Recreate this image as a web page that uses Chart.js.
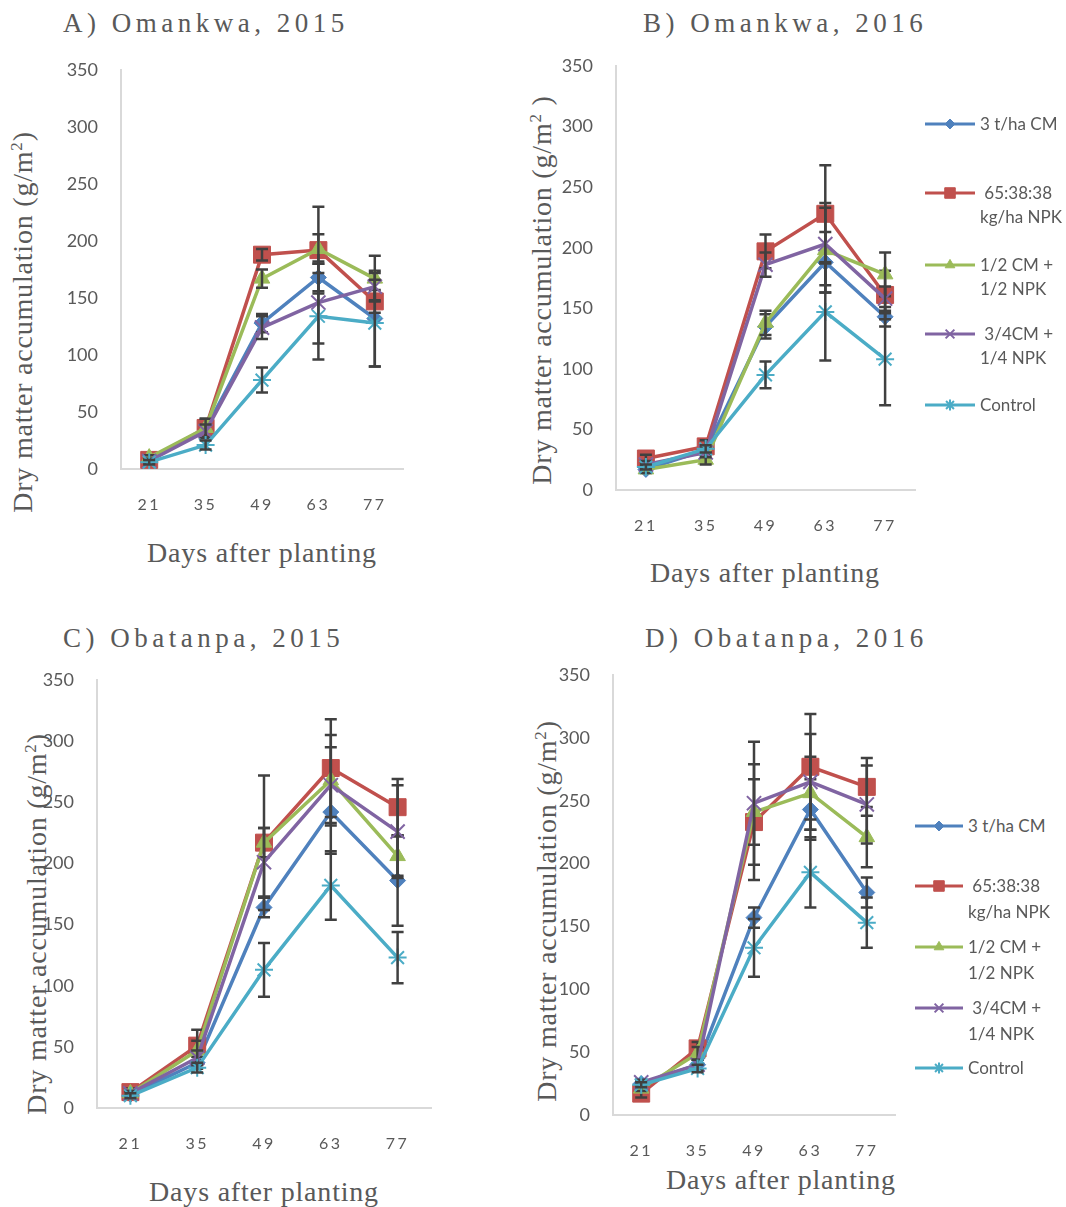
<!DOCTYPE html>
<html>
<head>
<meta charset="utf-8">
<script src="https://cdn.jsdelivr.net/npm/chart.js@4.4.1/dist/chart.umd.min.js"></script>
<style>
  body { margin: 0; background: #fff; width: 1066px; height: 1207px; position: relative; overflow: hidden; font-family: Lato, sans-serif; color: #595959; }
  .box { position: absolute; }
  .ttl { position: absolute; font-family: "Liberation Serif", serif; font-size: 27px; letter-spacing: 4.5px; color: #595959; white-space: nowrap; line-height: 1; }
  .axt { position: absolute; font-family: "Liberation Serif", serif; font-size: 28px; letter-spacing: 0.8px; color: #595959; white-space: nowrap; line-height: 1; transform: translate(-50%, -50%); }
  .axt.rot { transform: translate(-50%, -50%) rotate(-90deg); }
  .axt sup { font-size: 17px; line-height: 0; }
  .leg { position: absolute; display: flex; align-items: flex-start; font-size: 17px; color: #595959; white-space: nowrap; }
  .leg canvas { display: block; margin-right: 5px; }
</style>
</head>
<body>

<div class="ttl" style="left:63px;top:10px">A) Omankwa, 2015</div>
<div class="ttl" style="left:643px;top:10px">B) Omankwa, 2016</div>
<div class="ttl" style="left:63px;top:625px">C) Obatanpa, 2015</div>
<div class="ttl" style="left:645px;top:625px">D) Obatanpa, 2016</div>

<div class="axt rot" style="left:23px;top:322px">Dry matter accumulation (g/m<sup>2</sup>)</div>
<div class="axt rot" style="left:542px;top:290px">Dry matter accumulation (g/m<sup>2</sup> )</div>
<div class="axt rot" style="left:37px;top:924px">Dry matter accumulation (g/m<sup>2</sup>)</div>
<div class="axt rot" style="left:547px;top:911px">Dry matter accumulation (g/m<sup>2</sup>)</div>

<div class="axt" style="left:262px;top:553px">Days after planting</div>
<div class="axt" style="left:765px;top:573px">Days after planting</div>
<div class="axt" style="left:264px;top:1192px">Days after planting</div>
<div class="axt" style="left:781px;top:1180px">Days after planting</div>

<script>
// x categories (days after planting)
const days = ['21', '35', '49', '63', '77'];
const seriesNames = [['3 t/ha CM'], [' 65:38:38', 'kg/ha NPK'], ['1/2 CM +', '1/2 NPK'], [' 3/4CM +', '1/4 NPK'], ['Control']];

// A) Omankwa 2015
const omk15Cm   = [8, 35, 128, 168, 132];
const omk15Npk  = [8, 36, 188, 192, 147];
const omk15Half = [10, 36, 167, 193, 167];
const omk15Mix  = [7, 33, 124, 146, 160];
const omk15Ctrl = [6, 21, 78, 134, 128];
const omk15CmErr   = [2, 5, 8, 12, 42];
const omk15NpkErr  = [2, 8, 5, 38, 10];
const omk15HalfErr = [2, 8, 8, 13, 20];
const omk15MixErr  = [2, 6, 10, 36, 12];
const omk15CtrlErr = [2, 4, 11, 38, 38];

// B) Omankwa 2016
const omk16Cm   = [17, 33, 135, 188, 143];
const omk16Npk  = [26, 36, 197, 228, 161];
const omk16Half = [17, 25, 138, 198, 178];
const omk16Mix  = [21, 31, 186, 203, 158];
const omk16Ctrl = [19, 34, 95, 147, 108];
const omk16CmErr   = [2, 3, 10, 25, 8];
const omk16NpkErr  = [3, 5, 14, 40, 20];
const omk16HalfErr = [3, 4, 10, 35, 18];
const omk16MixErr  = [3, 4, 10, 34, 10];
const omk16CtrlErr = [2, 3, 11, 40, 38];

// C) Obatanpa 2015
const obt15Cm   = [11, 37, 164, 242, 186];
const obt15Npk  = [13, 51, 217, 278, 246];
const obt15Half = [12, 47, 217, 268, 206];
const obt15Mix  = [12, 41, 201, 264, 226];
const obt15Ctrl = [10, 33, 113, 182, 123];
const obt15CmErr   = [2, 5, 8, 34, 37];
const obt15NpkErr  = [3, 13, 55, 40, 23];
const obt15HalfErr = [2, 8, 12, 37, 16];
const obt15MixErr  = [2, 6, 28, 31, 38];
const obt15CtrlErr = [2, 4, 22, 28, 21];

// D) Obatanpa 2016
const obt16Cm   = [25, 40, 157, 243, 177];
const obt16Npk  = [17, 53, 233, 277, 261];
const obt16Half = [21, 49, 241, 256, 221];
const obt16Mix  = [26, 40, 248, 265, 247];
const obt16Ctrl = [24, 37, 133, 193, 153];
const obt16CmErr   = [2, 4, 8, 24, 12];
const obt16NpkErr  = [3, 5, 46, 42, 23];
const obt16HalfErr = [2, 5, 26, 29, 24];
const obt16MixErr  = [2, 4, 49, 38, 31];
const obt16CtrlErr = [2, 3, 23, 28, 20];

const colors  = ['#4F81BD', '#C0504D', '#9BBB59', '#8064A2', '#4BACC6'];
const markers = ['rectRot', 'rect', 'triangle', 'crossRot', 'star'];
const radii   = [8, 12, 9, 10, 9];

// plot area in page pixels: left, top, right, bottom
const panels = [
  { plot: [121, 70, 403, 469], values: [omk15Cm, omk15Npk, omk15Half, omk15Mix, omk15Ctrl], errors: [omk15CmErr, omk15NpkErr, omk15HalfErr, omk15MixErr, omk15CtrlErr] },
  { plot: [616, 66, 915, 490], values: [omk16Cm, omk16Npk, omk16Half, omk16Mix, omk16Ctrl], errors: [omk16CmErr, omk16NpkErr, omk16HalfErr, omk16MixErr, omk16CtrlErr],
    legend: { left: 925, rows: [124, 193, 265, 334, 405], lineH: 24, symW: 50 } },
  { plot: [97, 680, 431, 1108], values: [obt15Cm, obt15Npk, obt15Half, obt15Mix, obt15Ctrl], errors: [obt15CmErr, obt15NpkErr, obt15HalfErr, obt15MixErr, obt15CtrlErr] },
  { plot: [613, 675, 895, 1115], values: [obt16Cm, obt16Npk, obt16Half, obt16Mix, obt16Ctrl], errors: [obt16CmErr, obt16NpkErr, obt16HalfErr, obt16MixErr, obt16CtrlErr],
    legend: { left: 915, rows: [826, 886, 947, 1008, 1068], lineH: 26, symW: 48 } }
];

// error bars drawn with each series
const errorBars = {
  id: 'errorBars',
  afterDatasetDraw(chart, args) {
    const ds = chart.data.datasets[args.index];
    if (!ds.errors) return;
    const ctx = chart.ctx, y = chart.scales.y;
    ctx.save();
    ctx.strokeStyle = '#404040';
    ctx.lineWidth = 2.5;
    args.meta.data.forEach((pt, i) => {
      const top = y.getPixelForValue(ds.data[i] + ds.errors[i]);
      const bot = y.getPixelForValue(ds.data[i] - ds.errors[i]);
      ctx.beginPath();
      ctx.moveTo(pt.x, top); ctx.lineTo(pt.x, bot);
      ctx.moveTo(pt.x - 6, top); ctx.lineTo(pt.x + 6, top);
      ctx.moveTo(pt.x - 6, bot); ctx.lineTo(pt.x + 6, bot);
      ctx.stroke();
    });
    ctx.restore();
  }
};

// spaced-out day labels like the original
const spacedDays = {
  id: 'spacedDays',
  beforeDraw(chart) {
    const sx = chart.scales.x;
    if (sx._spaced) return;
    const orig = sx.drawLabels.bind(sx);
    sx.drawLabels = (area) => {
      chart.ctx.save();
      chart.ctx.letterSpacing = '2.5px';
      orig(area);
      chart.ctx.restore();
    };
    sx._spaced = true;
  }
};

function noPad(s) {
  s.paddingTop = 0; s.paddingBottom = 0; s.paddingLeft = 0; s.paddingRight = 0;
}

function buildLegend(chart, lg) {
  chart.data.datasets.forEach((ds, i) => {
    const row = document.createElement('div');
    row.className = 'leg';
    row.style.left = lg.left + 'px';
    row.style.top = (lg.rows[i] - lg.lineH / 2) + 'px';
    row.style.lineHeight = lg.lineH + 'px';
    const c = document.createElement('canvas');
    c.width = lg.symW; c.height = lg.lineH;
    const g = c.getContext('2d');
    g.strokeStyle = ds.borderColor;
    g.lineWidth = 3;
    g.beginPath(); g.moveTo(0, lg.lineH / 2); g.lineTo(lg.symW, lg.lineH / 2); g.stroke();
    if (Chart.helpers && Chart.helpers.drawPoint) {
      g.fillStyle = ds.pointBackgroundColor;
      g.strokeStyle = ds.pointBorderColor;
      g.lineWidth = ds.pointBorderWidth;
      Chart.helpers.drawPoint(g, { pointStyle: ds.pointStyle, radius: ds.pointRadius * 0.62, borderWidth: ds.pointBorderWidth, rotation: 0 }, lg.symW / 2, lg.lineH / 2);
    }
    const t = document.createElement('div');
    t.style.whiteSpace = 'pre';
    t.textContent = seriesNames[i].join('\n');
    row.appendChild(c);
    row.appendChild(t);
    document.body.appendChild(row);
  });
}

panels.forEach((p) => {
  const [L, T, R, B] = p.plot;
  const box = document.createElement('div');
  box.className = 'box';
  box.style.left = (L - 80) + 'px';
  box.style.top = (T - 20) + 'px';
  const canvas = document.createElement('canvas');
  canvas.width = R - L + 95;
  canvas.height = B - T + 80;
  box.appendChild(canvas);
  document.body.appendChild(box);

  const datasets = p.values.map((vals, i) => ({
    label: seriesNames[i].join(' ').trim(),
    data: vals,
    errors: p.errors[i],
    borderColor: colors[i],
    backgroundColor: colors[i],
    borderWidth: 3.5,
    pointStyle: markers[i],
    pointRadius: radii[i],
    pointBackgroundColor: colors[i],
    pointBorderColor: colors[i],
    pointBorderWidth: (markers[i] === 'crossRot' || markers[i] === 'star') ? 2 : 1,
    tension: 0,
    order: 5 - i
  }));

  const chart = new Chart(canvas, {
    type: 'line',
    data: { labels: days, datasets: datasets },
    options: {
      responsive: false,
      animation: false,
      layout: { padding: { top: 20, right: 15, left: 0, bottom: 0 } },
      plugins: { legend: { display: false }, tooltip: { enabled: false } },
      scales: {
        x: {
          offset: true,
          grid: { display: false, drawTicks: false },
          border: { color: '#d9d9d9', width: 2 },
          ticks: { color: '#595959', font: { family: 'Lato', size: 16 }, padding: 26, maxRotation: 0, autoSkip: false },
          afterFit: (s) => { s.height = 60; noPad(s); }
        },
        y: {
          min: 0, max: 350,
          grid: { display: false, drawTicks: false },
          border: { color: '#d9d9d9', width: 2 },
          ticks: { stepSize: 50, color: '#595959', font: { family: 'Lato', size: 18 }, padding: 23 },
          afterFit: (s) => { s.width = 80; noPad(s); }
        }
      }
    },
    plugins: [errorBars, spacedDays]
  });

  if (p.legend) buildLegend(chart, p.legend);
});
</script>
</body>
</html>
